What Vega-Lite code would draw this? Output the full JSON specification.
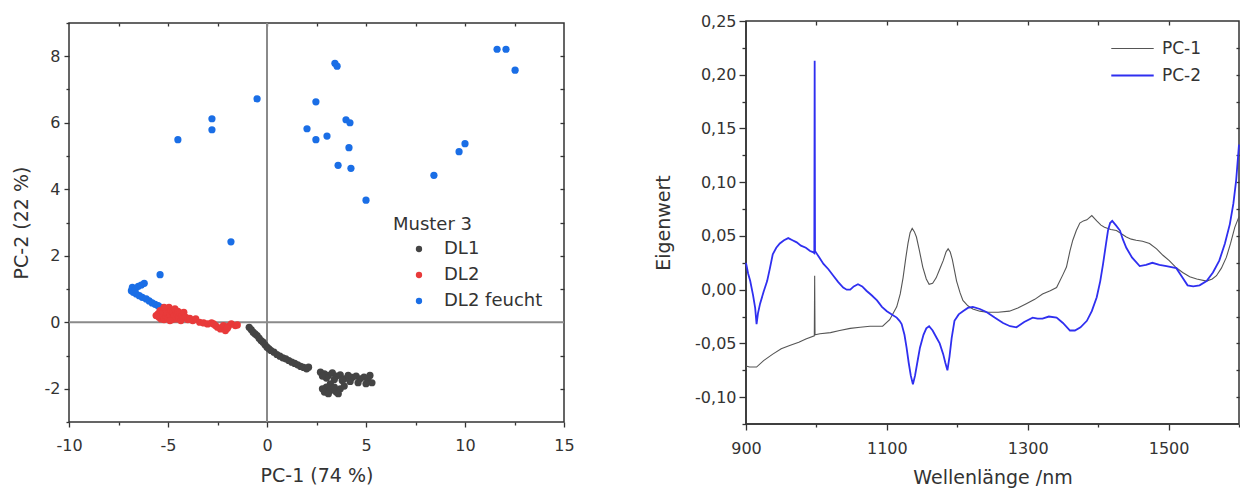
{
  "$schema": "https://vega.github.io/schema/vega-lite/v6.json",
  "padding": {"left": 11, "top": 12, "right": 0, "bottom": 0},
  "bounds": "flush",
  "spacing": 182,
  "center": true,
  "resolve": {"scale": {"color": "independent", "strokeWidth": "independent"}, "legend": {"color": "independent"}},
  "config": {
    "font": "DejaVu Sans",
    "view": {"stroke": "#333", "strokeWidth": 1.5},
    "axis": {"domain": false, "grid": false, "labelFlush": false, "tickColor": "#333", "tickWidth": 1.3, "labelColor": "#333", "titleColor": "#333", "titleFontWeight": "normal", "labelFont": "DejaVu Sans", "titleFont": "DejaVu Sans"},
    "legend": {"labelColor": "#333", "titleColor": "#333", "titleFontWeight": "normal"}
  },
  "datasets": {
    "scores": [
      {"pc1": -0.9, "pc2": -0.15, "grp": "DL1"}, {"pc1": -0.8, "pc2": -0.22, "grp": "DL1"}, {"pc1": -0.7, "pc2": -0.3, "grp": "DL1"}, {"pc1": -0.6, "pc2": -0.35, "grp": "DL1"}, {"pc1": -0.5, "pc2": -0.4, "grp": "DL1"}, {"pc1": -0.4, "pc2": -0.48, "grp": "DL1"}, {"pc1": -0.3, "pc2": -0.55, "grp": "DL1"}, {"pc1": -0.2, "pc2": -0.6, "grp": "DL1"}, {"pc1": -0.1, "pc2": -0.68, "grp": "DL1"}, {"pc1": 0.0, "pc2": -0.75, "grp": "DL1"}, {"pc1": 0.1, "pc2": -0.8, "grp": "DL1"}, {"pc1": 0.2, "pc2": -0.85, "grp": "DL1"}, {"pc1": 0.35, "pc2": -0.9, "grp": "DL1"}, {"pc1": 0.5, "pc2": -0.97, "grp": "DL1"}, {"pc1": 0.65, "pc2": -1.02, "grp": "DL1"}, {"pc1": 0.8, "pc2": -1.07, "grp": "DL1"}, {"pc1": 0.95, "pc2": -1.1, "grp": "DL1"}, {"pc1": 1.1, "pc2": -1.15, "grp": "DL1"}, {"pc1": 1.25, "pc2": -1.2, "grp": "DL1"}, {"pc1": 1.4, "pc2": -1.24, "grp": "DL1"}, {"pc1": 1.55, "pc2": -1.28, "grp": "DL1"}, {"pc1": 1.7, "pc2": -1.33, "grp": "DL1"}, {"pc1": 1.85, "pc2": -1.36, "grp": "DL1"}, {"pc1": 2.0, "pc2": -1.4, "grp": "DL1"}, {"pc1": 2.1, "pc2": -1.35, "grp": "DL1"},
      {"pc1": 2.7, "pc2": -1.5, "grp": "DL1"}, {"pc1": 2.9, "pc2": -1.55, "grp": "DL1"}, {"pc1": 3.1, "pc2": -1.6, "grp": "DL1"}, {"pc1": 3.3, "pc2": -1.52, "grp": "DL1"}, {"pc1": 3.5, "pc2": -1.62, "grp": "DL1"}, {"pc1": 3.7, "pc2": -1.58, "grp": "DL1"}, {"pc1": 3.9, "pc2": -1.7, "grp": "DL1"}, {"pc1": 4.1, "pc2": -1.6, "grp": "DL1"}, {"pc1": 4.3, "pc2": -1.66, "grp": "DL1"}, {"pc1": 4.5, "pc2": -1.62, "grp": "DL1"}, {"pc1": 4.7, "pc2": -1.7, "grp": "DL1"}, {"pc1": 4.9, "pc2": -1.65, "grp": "DL1"}, {"pc1": 5.1, "pc2": -1.75, "grp": "DL1"}, {"pc1": 5.3, "pc2": -1.82, "grp": "DL1"}, {"pc1": 5.0, "pc2": -1.85, "grp": "DL1"}, {"pc1": 4.6, "pc2": -1.82, "grp": "DL1"}, {"pc1": 4.2, "pc2": -1.78, "grp": "DL1"}, {"pc1": 3.8, "pc2": -1.75, "grp": "DL1"}, {"pc1": 3.4, "pc2": -1.72, "grp": "DL1"}, {"pc1": 3.0, "pc2": -1.68, "grp": "DL1"}, {"pc1": 2.8, "pc2": -1.62, "grp": "DL1"}, {"pc1": 5.2, "pc2": -1.6, "grp": "DL1"},
      {"pc1": 3.2, "pc2": -1.85, "grp": "DL1"}, {"pc1": 3.0, "pc2": -1.95, "grp": "DL1"}, {"pc1": 2.8, "pc2": -2.0, "grp": "DL1"}, {"pc1": 2.9, "pc2": -2.1, "grp": "DL1"}, {"pc1": 3.2, "pc2": -2.05, "grp": "DL1"}, {"pc1": 3.5, "pc2": -2.1, "grp": "DL1"}, {"pc1": 3.7, "pc2": -2.0, "grp": "DL1"}, {"pc1": 3.9, "pc2": -1.92, "grp": "DL1"}, {"pc1": 3.4, "pc2": -1.95, "grp": "DL1"}, {"pc1": 3.6, "pc2": -2.15, "grp": "DL1"}, {"pc1": 3.1, "pc2": -2.15, "grp": "DL1"},
      {"pc1": -6.85, "pc2": 0.95, "grp": "DL2 feucht"}, {"pc1": -6.8, "pc2": 1.05, "grp": "DL2 feucht"}, {"pc1": -6.75, "pc2": 0.9, "grp": "DL2 feucht"}, {"pc1": -6.65, "pc2": 1.0, "grp": "DL2 feucht"}, {"pc1": -6.5, "pc2": 1.08, "grp": "DL2 feucht"}, {"pc1": -6.35, "pc2": 1.12, "grp": "DL2 feucht"}, {"pc1": -6.2, "pc2": 1.17, "grp": "DL2 feucht"}, {"pc1": -6.6, "pc2": 0.85, "grp": "DL2 feucht"}, {"pc1": -6.45, "pc2": 0.8, "grp": "DL2 feucht"}, {"pc1": -6.3, "pc2": 0.75, "grp": "DL2 feucht"}, {"pc1": -6.1, "pc2": 0.7, "grp": "DL2 feucht"}, {"pc1": -5.95, "pc2": 0.64, "grp": "DL2 feucht"}, {"pc1": -5.8, "pc2": 0.58, "grp": "DL2 feucht"}, {"pc1": -5.65, "pc2": 0.54, "grp": "DL2 feucht"}, {"pc1": -5.5, "pc2": 0.5, "grp": "DL2 feucht"}, {"pc1": -5.35, "pc2": 0.45, "grp": "DL2 feucht"}, {"pc1": -5.2, "pc2": 0.42, "grp": "DL2 feucht"}, {"pc1": -5.4, "pc2": 1.43, "grp": "DL2 feucht"},
      {"pc1": -4.5, "pc2": 5.49, "grp": "DL2 feucht"}, {"pc1": -2.78, "pc2": 6.12, "grp": "DL2 feucht"}, {"pc1": -2.78, "pc2": 5.79, "grp": "DL2 feucht"}, {"pc1": -0.5, "pc2": 6.72, "grp": "DL2 feucht"}, {"pc1": -1.82, "pc2": 2.42, "grp": "DL2 feucht"}, {"pc1": 3.43, "pc2": 7.79, "grp": "DL2 feucht"}, {"pc1": 3.54, "pc2": 7.7, "grp": "DL2 feucht"}, {"pc1": 2.47, "pc2": 6.63, "grp": "DL2 feucht"}, {"pc1": 3.99, "pc2": 6.09, "grp": "DL2 feucht"}, {"pc1": 4.19, "pc2": 6.0, "grp": "DL2 feucht"}, {"pc1": 2.02, "pc2": 5.82, "grp": "DL2 feucht"}, {"pc1": 2.47, "pc2": 5.49, "grp": "DL2 feucht"}, {"pc1": 3.03, "pc2": 5.6, "grp": "DL2 feucht"}, {"pc1": 4.14, "pc2": 5.25, "grp": "DL2 feucht"}, {"pc1": 3.59, "pc2": 4.72, "grp": "DL2 feucht"}, {"pc1": 4.24, "pc2": 4.63, "grp": "DL2 feucht"}, {"pc1": 5.0, "pc2": 3.67, "grp": "DL2 feucht"}, {"pc1": 8.43, "pc2": 4.42, "grp": "DL2 feucht"}, {"pc1": 9.7, "pc2": 5.13, "grp": "DL2 feucht"}, {"pc1": 10.0, "pc2": 5.37, "grp": "DL2 feucht"}, {"pc1": 11.62, "pc2": 8.21, "grp": "DL2 feucht"}, {"pc1": 12.07, "pc2": 8.21, "grp": "DL2 feucht"}, {"pc1": 12.53, "pc2": 7.58, "grp": "DL2 feucht"},
      {"pc1": -5.5, "pc2": 0.25, "grp": "DL2"}, {"pc1": -5.45, "pc2": 0.15, "grp": "DL2"}, {"pc1": -5.4, "pc2": 0.35, "grp": "DL2"}, {"pc1": -5.35, "pc2": 0.1, "grp": "DL2"}, {"pc1": -5.3, "pc2": 0.2, "grp": "DL2"}, {"pc1": -5.25, "pc2": 0.3, "grp": "DL2"}, {"pc1": -5.2, "pc2": 0.08, "grp": "DL2"}, {"pc1": -5.15, "pc2": 0.4, "grp": "DL2"}, {"pc1": -5.1, "pc2": 0.18, "grp": "DL2"}, {"pc1": -5.05, "pc2": 0.28, "grp": "DL2"}, {"pc1": -5.0, "pc2": 0.12, "grp": "DL2"}, {"pc1": -4.95, "pc2": 0.45, "grp": "DL2"}, {"pc1": -4.9, "pc2": 0.22, "grp": "DL2"}, {"pc1": -4.85, "pc2": 0.35, "grp": "DL2"}, {"pc1": -4.8, "pc2": 0.08, "grp": "DL2"}, {"pc1": -4.75, "pc2": 0.3, "grp": "DL2"}, {"pc1": -4.7, "pc2": 0.18, "grp": "DL2"}, {"pc1": -4.65, "pc2": 0.4, "grp": "DL2"}, {"pc1": -4.6, "pc2": 0.1, "grp": "DL2"}, {"pc1": -4.55, "pc2": 0.25, "grp": "DL2"}, {"pc1": -4.5, "pc2": 0.33, "grp": "DL2"}, {"pc1": -4.45, "pc2": 0.15, "grp": "DL2"}, {"pc1": -4.4, "pc2": 0.28, "grp": "DL2"}, {"pc1": -4.35, "pc2": 0.05, "grp": "DL2"}, {"pc1": -4.3, "pc2": 0.2, "grp": "DL2"}, {"pc1": -4.25, "pc2": 0.12, "grp": "DL2"}, {"pc1": -4.2, "pc2": 0.3, "grp": "DL2"}, {"pc1": -4.1, "pc2": 0.15, "grp": "DL2"}, {"pc1": -4.0, "pc2": 0.08, "grp": "DL2"}, {"pc1": -3.9, "pc2": 0.12, "grp": "DL2"}, {"pc1": -3.75, "pc2": 0.05, "grp": "DL2"}, {"pc1": -3.6, "pc2": 0.1, "grp": "DL2"}, {"pc1": -3.4, "pc2": 0.0, "grp": "DL2"}, {"pc1": -3.2, "pc2": -0.02, "grp": "DL2"}, {"pc1": -3.0, "pc2": -0.05, "grp": "DL2"}, {"pc1": -2.8, "pc2": -0.02, "grp": "DL2"}, {"pc1": -2.6, "pc2": -0.1, "grp": "DL2"}, {"pc1": -2.5, "pc2": -0.15, "grp": "DL2"}, {"pc1": -2.35, "pc2": -0.2, "grp": "DL2"}, {"pc1": -2.2, "pc2": -0.1, "grp": "DL2"}, {"pc1": -2.1, "pc2": -0.25, "grp": "DL2"}, {"pc1": -1.95, "pc2": -0.12, "grp": "DL2"}, {"pc1": -1.8, "pc2": -0.05, "grp": "DL2"}, {"pc1": -1.6, "pc2": -0.1, "grp": "DL2"}, {"pc1": -1.5, "pc2": -0.08, "grp": "DL2"}, {"pc1": -2.0, "pc2": -0.18, "grp": "DL2"}, {"pc1": -2.7, "pc2": -0.05, "grp": "DL2"}, {"pc1": -5.2, "pc2": 0.45, "grp": "DL2"}, {"pc1": -4.9, "pc2": 0.05, "grp": "DL2"}, {"pc1": -5.6, "pc2": 0.2, "grp": "DL2"}
    ],
    "loadings": [
      {"wl": 900, "v": -0.071, "s": "PC-1"}, {"wl": 905, "v": -0.072, "s": "PC-1"}, {"wl": 915, "v": -0.072, "s": "PC-1"}, {"wl": 925, "v": -0.066, "s": "PC-1"}, {"wl": 938, "v": -0.06, "s": "PC-1"}, {"wl": 950, "v": -0.055, "s": "PC-1"}, {"wl": 962, "v": -0.052, "s": "PC-1"}, {"wl": 975, "v": -0.049, "s": "PC-1"}, {"wl": 985, "v": -0.046, "s": "PC-1"}, {"wl": 997, "v": -0.043, "s": "PC-1"}, {"wl": 997.5, "v": 0.013, "s": "PC-1"}, {"wl": 998, "v": -0.042, "s": "PC-1"}, {"wl": 1005, "v": -0.041, "s": "PC-1"}, {"wl": 1020, "v": -0.04, "s": "PC-1"}, {"wl": 1033, "v": -0.038, "s": "PC-1"}, {"wl": 1048, "v": -0.036, "s": "PC-1"}, {"wl": 1062, "v": -0.035, "s": "PC-1"}, {"wl": 1076, "v": -0.034, "s": "PC-1"}, {"wl": 1094, "v": -0.034, "s": "PC-1"}, {"wl": 1104, "v": -0.028, "s": "PC-1"}, {"wl": 1114, "v": -0.016, "s": "PC-1"}, {"wl": 1119, "v": -0.004, "s": "PC-1"}, {"wl": 1123, "v": 0.011, "s": "PC-1"}, {"wl": 1127, "v": 0.03, "s": "PC-1"}, {"wl": 1130, "v": 0.043, "s": "PC-1"}, {"wl": 1133, "v": 0.053, "s": "PC-1"}, {"wl": 1136, "v": 0.057, "s": "PC-1"}, {"wl": 1139, "v": 0.054, "s": "PC-1"}, {"wl": 1142, "v": 0.049, "s": "PC-1"}, {"wl": 1146, "v": 0.037, "s": "PC-1"}, {"wl": 1151, "v": 0.021, "s": "PC-1"}, {"wl": 1156, "v": 0.01, "s": "PC-1"}, {"wl": 1160, "v": 0.005, "s": "PC-1"}, {"wl": 1165, "v": 0.006, "s": "PC-1"}, {"wl": 1170, "v": 0.011, "s": "PC-1"}, {"wl": 1175, "v": 0.019, "s": "PC-1"}, {"wl": 1180, "v": 0.027, "s": "PC-1"}, {"wl": 1184, "v": 0.035, "s": "PC-1"}, {"wl": 1187, "v": 0.038, "s": "PC-1"}, {"wl": 1190, "v": 0.035, "s": "PC-1"}, {"wl": 1193, "v": 0.028, "s": "PC-1"}, {"wl": 1196, "v": 0.018, "s": "PC-1"}, {"wl": 1199, "v": 0.008, "s": "PC-1"}, {"wl": 1204, "v": -0.003, "s": "PC-1"}, {"wl": 1208, "v": -0.01, "s": "PC-1"}, {"wl": 1215, "v": -0.015, "s": "PC-1"}, {"wl": 1222, "v": -0.018, "s": "PC-1"}, {"wl": 1232, "v": -0.02, "s": "PC-1"}, {"wl": 1242, "v": -0.021, "s": "PC-1"}, {"wl": 1258, "v": -0.021, "s": "PC-1"}, {"wl": 1274, "v": -0.02, "s": "PC-1"}, {"wl": 1286, "v": -0.017, "s": "PC-1"}, {"wl": 1298, "v": -0.013, "s": "PC-1"}, {"wl": 1310, "v": -0.009, "s": "PC-1"}, {"wl": 1321, "v": -0.004, "s": "PC-1"}, {"wl": 1332, "v": -0.001, "s": "PC-1"}, {"wl": 1341, "v": 0.002, "s": "PC-1"}, {"wl": 1350, "v": 0.014, "s": "PC-1"}, {"wl": 1355, "v": 0.021, "s": "PC-1"}, {"wl": 1360, "v": 0.036, "s": "PC-1"}, {"wl": 1364, "v": 0.046, "s": "PC-1"}, {"wl": 1369, "v": 0.055, "s": "PC-1"}, {"wl": 1374, "v": 0.062, "s": "PC-1"}, {"wl": 1379, "v": 0.064, "s": "PC-1"}, {"wl": 1384, "v": 0.065, "s": "PC-1"}, {"wl": 1391, "v": 0.069, "s": "PC-1"}, {"wl": 1398, "v": 0.064, "s": "PC-1"}, {"wl": 1404, "v": 0.06, "s": "PC-1"}, {"wl": 1409, "v": 0.058, "s": "PC-1"}, {"wl": 1418, "v": 0.056, "s": "PC-1"}, {"wl": 1426, "v": 0.055, "s": "PC-1"}, {"wl": 1433, "v": 0.052, "s": "PC-1"}, {"wl": 1440, "v": 0.049, "s": "PC-1"}, {"wl": 1447, "v": 0.047, "s": "PC-1"}, {"wl": 1454, "v": 0.046, "s": "PC-1"}, {"wl": 1463, "v": 0.045, "s": "PC-1"}, {"wl": 1473, "v": 0.043, "s": "PC-1"}, {"wl": 1483, "v": 0.038, "s": "PC-1"}, {"wl": 1492, "v": 0.032, "s": "PC-1"}, {"wl": 1501, "v": 0.027, "s": "PC-1"}, {"wl": 1510, "v": 0.021, "s": "PC-1"}, {"wl": 1520, "v": 0.016, "s": "PC-1"}, {"wl": 1530, "v": 0.012, "s": "PC-1"}, {"wl": 1540, "v": 0.01, "s": "PC-1"}, {"wl": 1554, "v": 0.008, "s": "PC-1"}, {"wl": 1562, "v": 0.01, "s": "PC-1"}, {"wl": 1568, "v": 0.013, "s": "PC-1"}, {"wl": 1575, "v": 0.02, "s": "PC-1"}, {"wl": 1582, "v": 0.03, "s": "PC-1"}, {"wl": 1588, "v": 0.043, "s": "PC-1"}, {"wl": 1594, "v": 0.058, "s": "PC-1"}, {"wl": 1600, "v": 0.068, "s": "PC-1"},
      {"wl": 900, "v": 0.025, "s": "PC-2"}, {"wl": 903, "v": 0.015, "s": "PC-2"}, {"wl": 906, "v": 0.008, "s": "PC-2"}, {"wl": 910, "v": -0.005, "s": "PC-2"}, {"wl": 913, "v": -0.017, "s": "PC-2"}, {"wl": 915, "v": -0.032, "s": "PC-2"}, {"wl": 917, "v": -0.022, "s": "PC-2"}, {"wl": 920, "v": -0.013, "s": "PC-2"}, {"wl": 925, "v": -0.002, "s": "PC-2"}, {"wl": 930, "v": 0.008, "s": "PC-2"}, {"wl": 934, "v": 0.02, "s": "PC-2"}, {"wl": 938, "v": 0.033, "s": "PC-2"}, {"wl": 943, "v": 0.039, "s": "PC-2"}, {"wl": 948, "v": 0.043, "s": "PC-2"}, {"wl": 954, "v": 0.046, "s": "PC-2"}, {"wl": 960, "v": 0.048, "s": "PC-2"}, {"wl": 966, "v": 0.046, "s": "PC-2"}, {"wl": 972, "v": 0.044, "s": "PC-2"}, {"wl": 978, "v": 0.041, "s": "PC-2"}, {"wl": 985, "v": 0.039, "s": "PC-2"}, {"wl": 991, "v": 0.036, "s": "PC-2"}, {"wl": 995, "v": 0.035, "s": "PC-2"}, {"wl": 997, "v": 0.034, "s": "PC-2"}, {"wl": 997.5, "v": 0.213, "s": "PC-2"}, {"wl": 998, "v": 0.036, "s": "PC-2"}, {"wl": 1000, "v": 0.034, "s": "PC-2"}, {"wl": 1005, "v": 0.029, "s": "PC-2"}, {"wl": 1010, "v": 0.024, "s": "PC-2"}, {"wl": 1017, "v": 0.019, "s": "PC-2"}, {"wl": 1024, "v": 0.013, "s": "PC-2"}, {"wl": 1031, "v": 0.007, "s": "PC-2"}, {"wl": 1038, "v": 0.002, "s": "PC-2"}, {"wl": 1043, "v": 0.0, "s": "PC-2"}, {"wl": 1048, "v": 0.0, "s": "PC-2"}, {"wl": 1053, "v": 0.003, "s": "PC-2"}, {"wl": 1059, "v": 0.005, "s": "PC-2"}, {"wl": 1065, "v": 0.003, "s": "PC-2"}, {"wl": 1071, "v": -0.001, "s": "PC-2"}, {"wl": 1078, "v": -0.005, "s": "PC-2"}, {"wl": 1086, "v": -0.01, "s": "PC-2"}, {"wl": 1093, "v": -0.016, "s": "PC-2"}, {"wl": 1100, "v": -0.02, "s": "PC-2"}, {"wl": 1107, "v": -0.023, "s": "PC-2"}, {"wl": 1114, "v": -0.026, "s": "PC-2"}, {"wl": 1118, "v": -0.029, "s": "PC-2"}, {"wl": 1121, "v": -0.032, "s": "PC-2"}, {"wl": 1125, "v": -0.042, "s": "PC-2"}, {"wl": 1128, "v": -0.054, "s": "PC-2"}, {"wl": 1131, "v": -0.068, "s": "PC-2"}, {"wl": 1134, "v": -0.08, "s": "PC-2"}, {"wl": 1137, "v": -0.088, "s": "PC-2"}, {"wl": 1140, "v": -0.08, "s": "PC-2"}, {"wl": 1144, "v": -0.065, "s": "PC-2"}, {"wl": 1147, "v": -0.054, "s": "PC-2"}, {"wl": 1152, "v": -0.042, "s": "PC-2"}, {"wl": 1156, "v": -0.036, "s": "PC-2"}, {"wl": 1160, "v": -0.034, "s": "PC-2"}, {"wl": 1165, "v": -0.038, "s": "PC-2"}, {"wl": 1170, "v": -0.044, "s": "PC-2"}, {"wl": 1175, "v": -0.05, "s": "PC-2"}, {"wl": 1180, "v": -0.06, "s": "PC-2"}, {"wl": 1183, "v": -0.068, "s": "PC-2"}, {"wl": 1186, "v": -0.075, "s": "PC-2"}, {"wl": 1189, "v": -0.062, "s": "PC-2"}, {"wl": 1192, "v": -0.045, "s": "PC-2"}, {"wl": 1196, "v": -0.029, "s": "PC-2"}, {"wl": 1202, "v": -0.023, "s": "PC-2"}, {"wl": 1208, "v": -0.02, "s": "PC-2"}, {"wl": 1215, "v": -0.017, "s": "PC-2"}, {"wl": 1222, "v": -0.016, "s": "PC-2"}, {"wl": 1232, "v": -0.018, "s": "PC-2"}, {"wl": 1242, "v": -0.021, "s": "PC-2"}, {"wl": 1253, "v": -0.026, "s": "PC-2"}, {"wl": 1265, "v": -0.031, "s": "PC-2"}, {"wl": 1275, "v": -0.034, "s": "PC-2"}, {"wl": 1284, "v": -0.035, "s": "PC-2"}, {"wl": 1295, "v": -0.03, "s": "PC-2"}, {"wl": 1307, "v": -0.026, "s": "PC-2"}, {"wl": 1314, "v": -0.027, "s": "PC-2"}, {"wl": 1321, "v": -0.027, "s": "PC-2"}, {"wl": 1330, "v": -0.025, "s": "PC-2"}, {"wl": 1341, "v": -0.026, "s": "PC-2"}, {"wl": 1350, "v": -0.031, "s": "PC-2"}, {"wl": 1360, "v": -0.038, "s": "PC-2"}, {"wl": 1367, "v": -0.038, "s": "PC-2"}, {"wl": 1375, "v": -0.035, "s": "PC-2"}, {"wl": 1384, "v": -0.029, "s": "PC-2"}, {"wl": 1391, "v": -0.02, "s": "PC-2"}, {"wl": 1398, "v": -0.007, "s": "PC-2"}, {"wl": 1403, "v": 0.008, "s": "PC-2"}, {"wl": 1407, "v": 0.024, "s": "PC-2"}, {"wl": 1411, "v": 0.042, "s": "PC-2"}, {"wl": 1414, "v": 0.055, "s": "PC-2"}, {"wl": 1417, "v": 0.062, "s": "PC-2"}, {"wl": 1420, "v": 0.064, "s": "PC-2"}, {"wl": 1425, "v": 0.06, "s": "PC-2"}, {"wl": 1431, "v": 0.055, "s": "PC-2"}, {"wl": 1435, "v": 0.047, "s": "PC-2"}, {"wl": 1440, "v": 0.039, "s": "PC-2"}, {"wl": 1448, "v": 0.03, "s": "PC-2"}, {"wl": 1459, "v": 0.022, "s": "PC-2"}, {"wl": 1468, "v": 0.023, "s": "PC-2"}, {"wl": 1477, "v": 0.025, "s": "PC-2"}, {"wl": 1487, "v": 0.023, "s": "PC-2"}, {"wl": 1497, "v": 0.022, "s": "PC-2"}, {"wl": 1504, "v": 0.021, "s": "PC-2"}, {"wl": 1511, "v": 0.02, "s": "PC-2"}, {"wl": 1519, "v": 0.012, "s": "PC-2"}, {"wl": 1527, "v": 0.004, "s": "PC-2"}, {"wl": 1535, "v": 0.003, "s": "PC-2"}, {"wl": 1544, "v": 0.004, "s": "PC-2"}, {"wl": 1554, "v": 0.008, "s": "PC-2"}, {"wl": 1563, "v": 0.016, "s": "PC-2"}, {"wl": 1572, "v": 0.027, "s": "PC-2"}, {"wl": 1580, "v": 0.043, "s": "PC-2"}, {"wl": 1587, "v": 0.061, "s": "PC-2"}, {"wl": 1592, "v": 0.08, "s": "PC-2"}, {"wl": 1596, "v": 0.102, "s": "PC-2"}, {"wl": 1600, "v": 0.135, "s": "PC-2"}
    ]
  },
  "hconcat": [
    {
      "width": 495,
      "height": 399,
      "layer": [
        {
          "data": {"values": [{"ref": 0}]},
          "mark": {"type": "rule", "color": "#8a8a8a", "strokeWidth": 2},
          "encoding": {
            "x": {"field": "ref", "type": "quantitative", "scale": {"domain": [-10, 15], "nice": false, "zero": false},
              "axis": {"orient": "top", "title": null, "labels": false, "values": [-7.5, -5, -2.5, 0, 2.5, 5, 7.5, 10, 12.5], "tickSize": -3}}
          }
        },
        {
          "data": {"values": [{"ref": 0}]},
          "mark": {"type": "rule", "color": "#8a8a8a", "strokeWidth": 2},
          "encoding": {
            "y": {"field": "ref", "type": "quantitative", "scale": {"domain": [-3, 9], "nice": false, "zero": false},
              "axis": {"orient": "right", "title": null, "labels": false, "values": [-2, -1, 1, 2, 3, 4, 5, 6, 7, 8], "tickSize": -4}}
          }
        },
        {
          "data": {"name": "scores"},
          "mark": {"type": "circle", "size": 52, "opacity": 1},
          "encoding": {
            "x": {"field": "pc1", "type": "quantitative", "scale": {"domain": [-10, 15], "nice": false, "zero": false},
              "axis": {"orient": "bottom", "title": "PC-1 (74 %)", "titleFontSize": 19, "titlePadding": 13, "labelFontSize": 16, "labelPadding": 10,
                "values": [-10, -7.5, -5, -2.5, 0, 2.5, 5, 7.5, 10, 12.5, 15],
                "labelExpr": "datum.value % 5 != 0 ? '' : (datum.value < 0 ? '-' : '') + format(abs(datum.value), 'd')",
                "tickSize": {"condition": {"test": "datum.value % 5 != 0", "value": 3}, "value": 5}}},
            "y": {"field": "pc2", "type": "quantitative", "scale": {"domain": [-3, 9], "nice": false, "zero": false},
              "axis": {"orient": "left", "title": "PC-2 (22 %)", "titleFontSize": 19, "titlePadding": 13, "labelFontSize": 16, "labelPadding": 4,
                "values": [-3, -2, -1, 0, 1, 2, 3, 4, 5, 6, 7, 8, 9],
                "labelExpr": "datum.value % 2 != 0 ? '' : (datum.value < 0 ? '-' : '') + format(abs(datum.value), 'd')",
                "tickSize": {"condition": {"test": "datum.value % 2 != 0", "value": 3}, "value": 5}}},
            "color": {"field": "grp", "type": "nominal",
              "scale": {"domain": ["DL1", "DL2", "DL2 feucht"], "range": ["#444444", "#e83a3a", "#1a6ee6"]},
              "legend": {"orient": "none", "legendX": 324, "legendY": 193, "title": "Muster 3", "titleFontSize": 18, "labelFontSize": 18,
                "symbolType": "circle", "symbolSize": 40, "symbolOffset": 17, "labelOffset": 16, "rowPadding": 8, "titlePadding": 6, "padding": 0}}
          }
        }
      ],
      "resolve": {"axis": {"x": "independent", "y": "independent"}}
    },
    {
      "width": 493,
      "height": 403,
      "layer": [
        {
          "data": {"values": [{"ref": 900}]},
          "mark": {"type": "rule", "color": "#333", "strokeWidth": 1.5},
          "encoding": {
            "x": {"field": "ref", "type": "quantitative", "scale": {"domain": [900, 1600], "nice": false, "zero": false},
              "axis": {"orient": "top", "title": null, "labels": false, "values": [1000, 1100, 1200, 1300, 1400, 1500], "tickSize": -4}}
          }
        },
        {
          "data": {"values": [{"ref": -0.125}]},
          "mark": {"type": "rule", "color": "#333", "strokeWidth": 1.5},
          "encoding": {
            "y": {"field": "ref", "type": "quantitative", "scale": {"domain": [-0.125, 0.25], "nice": false, "zero": false},
              "axis": {"orient": "right", "title": null, "labels": false, "values": [-0.1, -0.075, -0.05, -0.025, 0, 0.025, 0.05, 0.075, 0.1, 0.125, 0.15, 0.175, 0.2, 0.225], "tickSize": -3}}
          }
        },
        {
          "data": {"name": "loadings"},
          "mark": {"type": "line", "interpolate": "linear"},
          "encoding": {
            "x": {"field": "wl", "type": "quantitative", "scale": {"domain": [900, 1600], "nice": false, "zero": false},
              "axis": {"orient": "bottom", "title": "Wellenlänge /nm", "titleFontSize": 19, "titlePadding": 12, "labelFontSize": 16, "labelPadding": 10,
                "values": [900, 1000, 1100, 1200, 1300, 1400, 1500, 1600],
                "labelExpr": "(datum.value - 900) % 200 != 0 || datum.value == 1600 ? '' : format(datum.value, 'd')",
                "tickSize": {"condition": {"test": "(datum.value - 900) % 200 != 0", "value": 3}, "value": 6}}},
            "y": {"field": "v", "type": "quantitative", "scale": {"domain": [-0.125, 0.25], "nice": false, "zero": false},
              "axis": {"orient": "left", "title": "Eigenwert", "titleFontSize": 19, "titlePadding": 21, "labelFontSize": 16, "labelPadding": 3,
                "values": [-0.125, -0.1, -0.075, -0.05, -0.025, 0, 0.025, 0.05, 0.075, 0.1, 0.125, 0.15, 0.175, 0.2, 0.225, 0.25],
                "labelExpr": "abs(round(datum.value * 40)) % 2 == 1 ? '' : (datum.value < 0 ? '-' : '') + replace(format(abs(datum.value), '.2f'), '.', ',')",
                "tickSize": {"condition": {"test": "abs(round(datum.value * 40)) % 2 == 1", "value": 4}, "value": 7}}},
            "color": {"field": "s", "type": "nominal",
              "scale": {"domain": ["PC-1", "PC-2"], "range": ["#555555", "#2f2ff0"]},
              "legend": {"orient": "none", "legendX": 364, "legendY": 19, "title": null, "labelFontSize": 17,
                "symbolType": "stroke", "symbolSize": 1800, "symbolStrokeWidth": 1.5, "clipHeight": 17, "labelOffset": 7, "rowPadding": 9, "padding": 0}},
            "strokeWidth": {"field": "s", "type": "nominal", "scale": {"domain": ["PC-1", "PC-2"], "range": [1.1, 1.8]}, "legend": null}
          }
        }
      ],
      "resolve": {"axis": {"x": "independent", "y": "independent"}}
    }
  ]
}
